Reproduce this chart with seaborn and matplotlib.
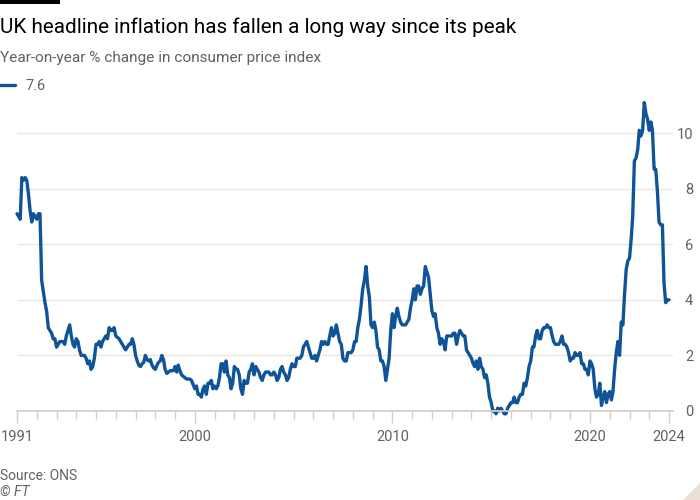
import numpy as np
import pandas as pd
import matplotlib
matplotlib.use("Agg")
import matplotlib.pyplot as plt
import matplotlib.dates as mdates
from matplotlib.patches import Rectangle, Polygon
import seaborn as sns

# monthly CPI, year-on-year %, Jan 1991 .. Jan 2024
cpi_1990s = [
    7.1, 7.0, 6.9, 8.4, 8.3, 8.4, 8.3, 7.8, 7.2, 6.8, 7.1, 7.0,   # 1991
    6.9, 7.1, 7.1, 4.7, 4.3, 3.9, 3.6, 3.0, 2.9, 2.8, 2.6, 2.6,   # 1992
    2.3, 2.4, 2.5, 2.5, 2.5, 2.4, 2.7, 2.9, 3.1, 2.7, 2.4, 2.3,   # 1993
    2.6, 2.5, 2.2, 2.0, 2.0, 2.0, 1.9, 1.7, 1.8, 1.5, 1.6, 1.9,   # 1994
    2.4, 2.4, 2.5, 2.3, 2.5, 2.6, 2.7, 2.6, 3.0, 2.9, 2.9, 3.0,   # 1995
    2.7, 2.65, 2.6, 2.5, 2.4, 2.3, 2.2, 2.3, 2.4, 2.4, 2.6, 2.4,  # 1996
    2.0, 1.8, 1.65, 1.6, 1.7, 1.75, 2.0, 1.85, 1.8, 1.85, 1.65, 1.55,  # 1997
    1.5, 1.65, 1.75, 1.8, 2.0, 1.85, 1.5, 1.35, 1.4, 1.45, 1.45, 1.45,  # 1998
    1.6, 1.4, 1.65, 1.45, 1.3, 1.25, 1.2, 1.15, 1.15, 1.15, 1.1, 0.95,  # 1999
]
cpi_2000s = [
    0.8, 0.9, 0.6, 0.6, 0.5, 0.8, 0.9, 0.6, 1.0, 1.0, 1.1, 0.8,   # 2000
    0.9, 0.8, 0.9, 1.2, 1.7, 1.7, 1.4, 1.8, 1.3, 1.2, 0.8, 1.0,   # 2001
    1.6, 1.5, 1.5, 1.3, 0.8, 0.6, 1.1, 1.0, 1.0, 1.4, 1.5, 1.7,   # 2002
    1.3, 1.6, 1.5, 1.4, 1.2, 1.1, 1.3, 1.4, 1.4, 1.4, 1.3, 1.3,   # 2003
    1.4, 1.3, 1.1, 1.2, 1.5, 1.6, 1.4, 1.3, 1.1, 1.2, 1.5, 1.7,   # 2004
    1.6, 1.6, 1.9, 1.9, 1.9, 2.0, 2.3, 2.4, 2.5, 2.3, 2.1, 1.9,   # 2005
    1.9, 2.0, 1.8, 2.0, 2.2, 2.5, 2.4, 2.5, 2.4, 2.4, 2.7, 3.0,   # 2006
    2.7, 2.8, 3.1, 2.8, 2.5, 2.4, 1.9, 1.8, 1.8, 2.1, 2.1, 2.1,   # 2007
    2.2, 2.5, 2.5, 3.0, 3.3, 3.8, 4.4, 4.7, 5.2, 4.5, 4.1, 3.1,   # 2008
    3.0, 3.2, 2.9, 2.3, 2.2, 1.8, 1.8, 1.6, 1.1, 1.5, 1.9, 2.9,   # 2009
]
cpi_2010s = [
    3.5, 3.0, 3.4, 3.7, 3.4, 3.2, 3.1, 3.1, 3.1, 3.2, 3.3, 3.7,   # 2010
    4.0, 4.4, 4.0, 4.5, 4.5, 4.2, 4.4, 4.5, 5.2, 5.0, 4.8, 4.2,   # 2011
    3.6, 3.4, 3.5, 3.0, 2.8, 2.4, 2.6, 2.5, 2.2, 2.7, 2.7, 2.7,   # 2012
    2.7, 2.8, 2.8, 2.4, 2.7, 2.9, 2.8, 2.7, 2.7, 2.2, 2.1, 2.0,   # 2013
    1.9, 1.7, 1.6, 1.8, 1.5, 1.9, 1.6, 1.5, 1.2, 1.3, 1.0, 0.5,   # 2014
    0.3, 0.0, 0.0, -0.1, 0.1, 0.0, 0.1, 0.0, -0.1, -0.1, 0.1, 0.2,  # 2015
    0.3, 0.3, 0.5, 0.3, 0.3, 0.5, 0.6, 0.6, 1.0, 0.9, 1.2, 1.6,   # 2016
    1.8, 2.3, 2.3, 2.7, 2.9, 2.6, 2.6, 2.9, 3.0, 3.0, 3.1, 3.0,   # 2017
    3.0, 2.7, 2.5, 2.4, 2.4, 2.4, 2.5, 2.7, 2.4, 2.4, 2.3, 2.1,   # 2018
    1.8, 1.9, 1.9, 2.1, 2.0, 2.0, 2.1, 1.7, 1.7, 1.5, 1.5, 1.3,   # 2019
]
cpi_2020s = [
    1.8, 1.7, 1.5, 0.8, 0.5, 0.6, 1.0, 0.2, 0.5, 0.7, 0.3, 0.6,   # 2020
    0.7, 0.4, 0.7, 1.5, 2.1, 2.5, 2.0, 3.2, 3.1, 4.2, 5.1, 5.4,   # 2021
    5.5, 6.2, 7.0, 9.0, 9.1, 9.4, 10.1, 9.9, 10.1, 11.1, 10.7, 10.5,  # 2022
    10.1, 10.4, 10.1, 8.7, 8.7, 7.9, 6.8, 6.7, 6.7, 4.6, 3.9, 4.0,  # 2023
    4.0,                                                          # 2024
]

cpi = cpi_1990s + cpi_2000s + cpi_2010s + cpi_2020s
dates = pd.date_range("1991-01-01", periods=len(cpi), freq="MS")
df = pd.DataFrame({"date": dates, "cpi": cpi})

labelled_years = [1991, 2000, 2010, 2020, 2024]
y_ticks = [0, 2, 4, 6, 8, 10]
series_label = "7.6"

title = "UK headline inflation has fallen a long way since its peak"
subtitle = "Year-on-year % change in consumer price index"

blue = "#0f5499"
grey_text = "#66605c"
grid_col = "#ebe6e1"
axis_col = "#d5cfc9"

sns.set_style("white")
plt.rcParams["font.family"] = ["Roboto", "DejaVu Sans"]

fig = plt.figure(figsize=(7, 5), dpi=100)
fig.patch.set_facecolor("white")
ax = fig.add_axes([17 / 700, 89 / 500, 656 / 700, 314 / 500])

sns.lineplot(data=df, x="date", y="cpi", ax=ax, color=blue, linewidth=2.4,
             label=series_label, legend=False, clip_on=False)

ax.set_xlim(pd.Timestamp("1991-01-01"), pd.Timestamp("2024-03-15"))
ax.set_ylim(0, 11.3)

# x axis: a tick every year, labels on a few
major = [mdates.date2num(pd.Timestamp(f"{y}-01-01")) for y in labelled_years]
ax.set_xticks(major)
ax.set_xticklabels([str(y) for y in labelled_years])
ax.xaxis.set_minor_locator(mdates.YearLocator(1))
ax.tick_params(axis="x", which="both", bottom=True, direction="out")
ax.tick_params(axis="x", which="major", length=8.5, width=1, color=axis_col,
               labelsize=10.5, labelcolor=grey_text, pad=5)
ax.tick_params(axis="x", which="minor", length=5.5, width=1, color=axis_col)

# y axis on the right
ax.set_yticks(y_ticks)
ax.set_yticklabels([str(v) for v in y_ticks])
ax.yaxis.tick_right()
ax.tick_params(axis="y", length=0, labelsize=10.5, labelcolor=grey_text, pad=14.5)
plt.setp(ax.get_yticklabels(), ha="right")

ax.grid(axis="y", color=grid_col, linewidth=1)
ax.grid(axis="x", visible=False)
ax.set_axisbelow(True)
for side in ["top", "left", "right"]:
    ax.spines[side].set_visible(False)
ax.spines["bottom"].set_color(axis_col)
ax.spines["bottom"].set_linewidth(1.3)
ax.set_xlabel("")
ax.set_ylabel("")

# legend
h, l = ax.get_legend_handles_labels()
fig.legend(h, l, loc="center left", bbox_to_anchor=(0, 1 - 86 / 500),
           bbox_transform=fig.transFigure, frameon=False, borderpad=0,
           borderaxespad=0, fontsize=10.5, handlelength=1.05,
           handletextpad=0.7, labelcolor=grey_text)

# titles and footer
fig.text(0, 1 - 33 / 500, title, fontsize=14.9, color="#000000", va="baseline")
fig.text(0, 1 - 62 / 500, subtitle, fontsize=11.1, color=grey_text, va="baseline")
fig.text(0, 1 - 480 / 500, "Source: ONS", fontsize=10, color=grey_text, va="baseline")
fig.text(0, 1 - 496 / 500, "© FT", fontsize=10, color=grey_text, va="baseline",
         style="italic")

fig.add_artist(Rectangle((0, 1 - 4 / 500), 60 / 700, 4 / 500,
                         transform=fig.transFigure, facecolor="black",
                         edgecolor="none"))
fig.add_artist(Polygon([(683 / 700, 0), (1, 0), (1, 17 / 500)], closed=True,
                       transform=fig.transFigure, facecolor="#e9dfd5",
                       edgecolor="none"))

fig.savefig("out.png", dpi=100)
